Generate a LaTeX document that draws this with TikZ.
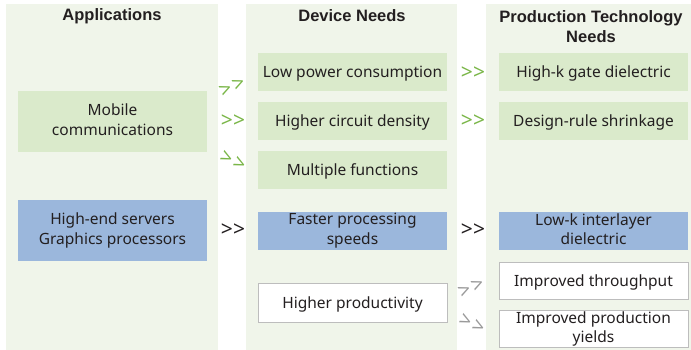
\documentclass[tikz,border=0pt]{standalone}
\usepackage{fontspec}
\setmainfont{Noto Sans}
\newfontfamily\hdrfont{Liberation Sans}
\newcommand\bxstrut{\rule[-4pt]{0pt}{19pt}}
\definecolor{panelc}{HTML}{F0F5EA}
\definecolor{greenc}{HTML}{DAEACB}
\definecolor{bluec}{HTML}{9BB7DC}
\definecolor{txtc}{HTML}{231F20}
\definecolor{arrg}{HTML}{7AB648}
\definecolor{arrgray}{HTML}{9A9A9A}
\definecolor{bordc}{HTML}{BDBDBD}
\tikzset{
  boxbase/.style={minimum width=189pt, inner sep=0pt, align=center, text=txtc,
    font=\fontsize{15.5}{19.5}\selectfont,
    execute at begin node=\bxstrut, execute at end node=\bxstrut},
  gbox/.style={boxbase, fill=greenc, minimum height=38pt},
  bbox/.style={boxbase, fill=bluec, minimum height=38pt},
  wbox/.style={boxbase, fill=white, draw=bordc, line width=1pt, minimum height=37pt},
  hdr/.style={font=\hdrfont\bfseries\fontsize{16.5}{20}\selectfont, text=txtc, align=center, inner sep=0pt},
  chev/.style={font=\fontsize{21}{21}\selectfont, inner sep=0pt},
  chevg/.style={chev, text=arrg},
  chevk/.style={chev, text=txtc},
  chevgr/.style={chev, text=arrgray},
}
\begin{document}
\begin{tikzpicture}[x=1pt,y=-1pt]
\useasboundingbox (0,0) rectangle (691,350);
\fill[panelc] (6,4) rectangle (218,350);
\fill[panelc] (246,4) rectangle (457,350);
\fill[panelc] (486,4) rectangle (691,350);

\node[hdr] (h1) at (112,16) {Applications};
\node[hdr] (h2) at (352,16) {Device Needs};
\node[hdr] (h3) at (591,27) {Production Technology\\Needs};

\node[gbox, minimum height=61pt] (mob) at (112.5,121.5) {Mobile\\communications};
\node[bbox, minimum height=61pt] (srv) at (112.5,230.5) {High-end servers\\Graphics processors};

\node[gbox] (lpc) at (352.5,72) {Low power consumption};
\node[gbox] (hcd) at (352.5,121) {Higher circuit density};
\node[gbox] (mf) at (352.5,170) {Multiple functions};
\node[bbox] (fps) at (352.5,231) {Faster processing\\speeds};
\node[wbox, minimum height=39pt] (hp) at (352.5,302.5) {Higher productivity};

\node[gbox] (hk) at (593.5,72) {High-k gate dielectric};
\node[gbox] (drs) at (593.5,121) {Design-rule shrinkage};
\node[bbox] (lk) at (593.5,231) {Low-k interlayer\\dielectric};
\node[wbox] (it) at (593.5,280.5) {Improved throughput};
\node[wbox] (ipy) at (593.5,329) {Improved production\\yields};

\node[chevg, rotate=25] (a1) at (233,87) {>\kern2.5pt>};
\node[chevg] (a2) at (233,121) {>{}>};
\node[chevg, rotate=-25] (a3) at (233,161) {>\kern2.5pt>};
\node[chevk] (a4) at (233,230.5) {>{}>};
\node[chevg] (a5) at (473,73) {>{}>};
\node[chevg] (a6) at (473,121) {>{}>};
\node[chevk] (a7) at (473,230.5) {>{}>};
\node[chevgr, rotate=25] (a8) at (472,288) {>\kern2.5pt>};
\node[chevgr, rotate=-25] (a9) at (472,324) {>\kern2.5pt>};
\end{tikzpicture}
\end{document}
